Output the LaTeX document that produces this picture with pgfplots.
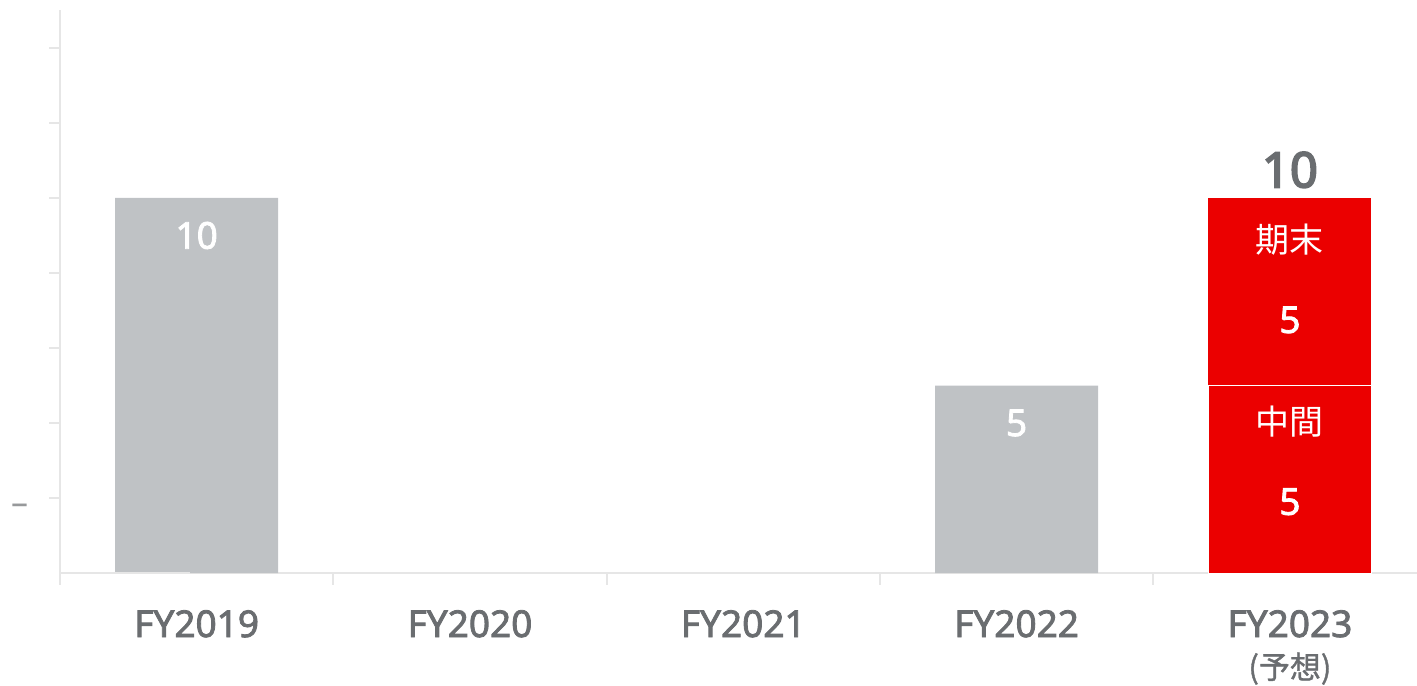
\documentclass[border=0pt]{standalone}
\usepackage{fontspec}
\usepackage{pgfplots}
\pgfplotsset{compat=1.18}
\setmainfont{Noto Sans}
\newfontfamily\medfont[FakeBold=2.2]{Noto Sans}
\newfontfamily\boldfont[FakeBold=3.5]{Noto Sans}
\newfontfamily\cjk{Noto Sans CJK JP}
\newfontfamily\cjkmed[FakeBold=1.2]{Noto Sans CJK JP}
\definecolor{txtgray}{HTML}{6A6D70}
\definecolor{bargray}{HTML}{BFC2C5}
\definecolor{barred}{HTML}{EB0000}
\definecolor{axisgray}{HTML}{E6E6E6}
\begin{document}
\begin{tikzpicture}
\begin{axis}[
  scale only axis,
  width=678.5pt, height=281.25pt,
  xmin=-0.5, xmax=4.465, ymin=0, ymax=15,
  axis x line*=bottom, axis y line*=left,
  axis line style={draw=axisgray, line width=1pt, -},
  xtick={0,1,2,3,4},
  xticklabels={FY2019,FY2020,FY2021,FY2022,FY2023},
  minor xtick={-0.5,0.5,1.5,2.5,3.5},
  ytick={2,4,6,8,10,12,14},
  yticklabels={},
  tick align=outside,
  major tick length=5.5pt,
  minor tick length=6pt,
  major x tick style={draw=none},
  minor x tick style={draw=axisgray, line width=1pt},
  major y tick style={draw=axisgray, line width=1pt},
  xticklabel style={font=\fontsize{18.5}{20}\medfont, text=txtgray, anchor=base, yshift=-26.5pt},
  ybar, bar shift=0pt, bar width=0.596,
  clip=false,
]
\addplot[fill=bargray, draw=none] coordinates {(0,10) (3,5)};
\addplot[fill=barred, draw=none] coordinates {(4,10)};
\addplot[fill=barred, draw=white, line width=0.5pt] coordinates {(4,5)};
\draw[axisgray, line width=1pt] (axis cs:-0.5,0) -- ++(-3.5pt,0);
\node[text=white, font=\fontsize{18.5}{20}\medfont] at (axis cs:0,9.0) {10};
\node[text=white, font=\fontsize{18.5}{20}\medfont] at (axis cs:3,4.0) {5};
\node[text=white, font=\fontsize{17}{20}\cjk] at (axis cs:4,8.88) {期末};
\node[text=white, font=\fontsize{18.5}{20}\medfont] at (axis cs:4,6.75) {5};
\node[text=white, font=\fontsize{17}{20}\cjk] at (axis cs:4,4.03) {中間};
\node[text=white, font=\fontsize{18.5}{20}\medfont] at (axis cs:4,1.9) {5};
\node[text=txtgray, font=\fontsize{24.5}{26}\boldfont] at (axis cs:4,10.75) {10};
\node[text=txtgray, font=\fontsize{15.5}{18}\cjkmed] at (axis cs:4,-2.55) {(予想)};
\node[text=txtgray!70, font=\fontsize{17}{18}\selectfont] at (axis cs:-0.646,1.69) {–};
\end{axis}
\pgfresetboundingbox
\path[use as bounding box] ([shift={(-30pt,-56pt)}]current axis.south west) rectangle ++(708.5pt,342.5pt);
\end{tikzpicture}
\end{document}
